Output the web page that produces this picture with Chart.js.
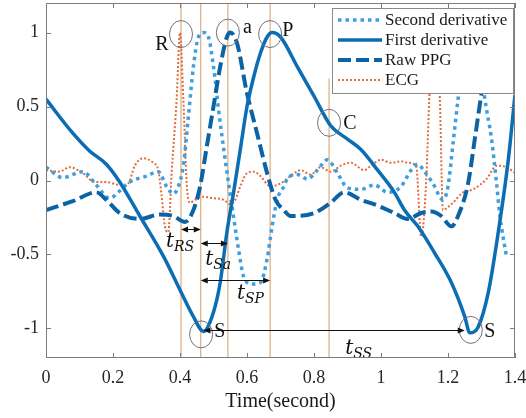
<!DOCTYPE html>
<html lang="en">
<head>
<meta charset="UTF-8">
<title>PPG and ECG timing</title>
<script src="https://cdn.jsdelivr.net/npm/chart.js"></script>
<style>
  html, body { margin: 0; padding: 0; background: #fff; }
  #chart { display: block; }
</style>
</head>
<body>
<canvas id="chart" width="526" height="418"></canvas>
<script>
// axis ticks
const xTicks = [0, 0.2, 0.4, 0.6, 0.8, 1, 1.2, 1.4];
const yTicks = [-1, -0.5, 0, 0.5, 1];

const seriesNames = ['Second derivative', 'First derivative', 'Raw PPG', 'ECG'];

// second derivative of the PPG
const sdT = [0, 0.05, 0.11, 0.15, 0.19, 0.22, 0.25, 0.30, 0.335, 0.36, 0.38, 0.395, 0.41, 0.425, 0.44, 0.455, 0.47, 0.485, 0.50, 0.515, 0.535, 0.555, 0.575, 0.59, 0.615, 0.64, 0.66, 0.675, 0.69, 0.71, 0.72, 0.75, 0.78, 0.81, 0.84, 0.87, 0.90, 0.94, 0.98, 1.02, 1.06, 1.09, 1.11, 1.13, 1.155, 1.185, 1.20, 1.215, 1.23, 1.25, 1.27, 1.29, 1.31, 1.33, 1.345, 1.355, 1.375];
const sdV = [0.09, 0.02, 0.06, -0.03, -0.12, -0.07, -0.01, 0.03, 0.06, -0.04, -0.09, -0.04, 0.10, 0.43, 0.77, 0.97, 1.0, 0.97, 0.77, 0.48, 0.14, -0.17, -0.47, -0.65, -0.70, -0.69, -0.53, -0.31, -0.13, -0.04, 0.01, 0.04, 0.01, 0.07, 0.14, 0.05, -0.05, -0.06, -0.03, -0.08, -0.04, 0.07, 0.11, 0.06, -0.02, -0.13, -0.04, 0.25, 0.55, 0.9, 1.0, 0.9, 0.55, 0.28, -0.02, -0.24, -0.52];

// first derivative of the PPG
const fdT = [0, 0.08, 0.13, 0.18, 0.22, 0.28, 0.35, 0.40, 0.44, 0.47, 0.50, 0.52, 0.54, 0.56, 0.58, 0.60, 0.62, 0.64, 0.66, 0.675, 0.70, 0.75, 0.80, 0.85, 0.90, 0.94, 0.99, 1.04, 1.07, 1.11, 1.16, 1.21, 1.25, 1.265, 1.29, 1.32, 1.35, 1.38, 1.40];
const fdV = [0.55, 0.32, 0.20, 0.11, -0.01, -0.24, -0.51, -0.74, -0.92, -1.02, -0.89, -0.69, -0.35, -0.08, 0.21, 0.50, 0.70, 0.86, 0.97, 1.0, 0.97, 0.77, 0.57, 0.37, 0.28, 0.21, 0.07, -0.08, -0.20, -0.31, -0.49, -0.69, -0.92, -1.03, -0.99, -0.76, -0.35, 0.14, 0.58];

// raw PPG
const ppgT = [0, 0.08, 0.15, 0.18, 0.22, 0.28, 0.34, 0.38, 0.415, 0.44, 0.46, 0.48, 0.50, 0.52, 0.54, 0.55, 0.57, 0.60, 0.63, 0.66, 0.685, 0.71, 0.73, 0.80, 0.85, 0.89, 0.94, 0.99, 1.04, 1.08, 1.12, 1.15, 1.18, 1.21, 1.23, 1.26, 1.28, 1.30, 1.33, 1.37, 1.40];
const ppgV = [-0.20, -0.14, -0.08, -0.13, -0.22, -0.26, -0.23, -0.24, -0.28, -0.20, -0.04, 0.23, 0.50, 0.77, 0.97, 1.0, 0.93, 0.59, 0.32, 0.05, -0.13, -0.20, -0.24, -0.22, -0.15, -0.08, -0.13, -0.17, -0.22, -0.26, -0.22, -0.21, -0.24, -0.31, -0.24, -0.02, 0.28, 0.59, 1.0, 0.95, 0.8];

// ECG
const ecgT = [0, 0.04, 0.07, 0.11, 0.145, 0.18, 0.22, 0.245, 0.265, 0.29, 0.32, 0.335, 0.345, 0.355, 0.365, 0.375, 0.39, 0.40, 0.41, 0.42, 0.43, 0.445, 0.47, 0.50, 0.53, 0.55, 0.565, 0.58, 0.60, 0.62, 0.64, 0.67, 0.70, 0.73, 0.76, 0.79, 0.82, 0.85, 0.88, 0.91, 0.95, 0.97, 1.00, 1.03, 1.06, 1.08, 1.105, 1.12, 1.135, 1.145, 1.16, 1.175, 1.185, 1.20, 1.215, 1.245, 1.275, 1.315, 1.345, 1.375, 1.40];
const ecgV = [0.07, 0.06, 0.09, 0.05, -0.01, -0.01, -0.03, -0.02, 0.10, 0.15, 0.12, 0.07, -0.10, -0.31, -0.35, 0.05, 0.55, 1.0, 0.55, -0.02, -0.15, -0.13, -0.11, -0.12, -0.13, -0.16, -0.13, -0.04, 0.05, 0.06, 0.03, -0.04, -0.02, 0.03, 0.07, 0.04, 0.09, 0.06, 0.10, 0.12, 0.07, 0.10, 0.14, 0.12, 0.13, 0.12, 0.10, -0.38, 0.0, 0.6, 1.0, 0.6, -0.2, -0.18, -0.15, -0.08, -0.06, 0.01, 0.10, 0.09, 0.05];

// vertical reference lines (time, top end)
const markerX = [0.403, 0.462, 0.543, 0.669, 0.845];
const markerTop = [1.2, 1.2, 1.2, 1.2, 0.69];

// circled points and their letters
const circleX = [0.403, 0.543, 0.669, 0.845, 0.463, 1.268];
const circleY = [0.99, 1.0, 0.99, 0.39, -1.04, -1.01];
const pointText = ['R', 'a', 'P', 'C', 'S', 'S'];
const pointTextX = [0.346, 0.601, 0.722, 0.907, 0.519, 1.325];
const pointTextY = [0.92, 1.03, 1.01, 0.385, -1.02, -1.02];

// interval arrows
const intervalSub = ['RS', 'Sa', 'SP', 'SS'];
const intervalFrom = [0.403, 0.462, 0.462, 0.47];
const intervalTo = [0.462, 0.543, 0.669, 1.25];
const intervalY = [-0.33, -0.42, -0.67, -1.01];
const intervalTextX = [0.358, 0.475, 0.570, 0.893];
const intervalTextY = [-0.45, -0.57, -0.80, -1.17];

const zip = (t, v) => t.map((x, i) => ({ x: x, y: v[i] }));

const serif = '"Liberation Serif", "Times New Roman", serif';

const datasets = [
    { label: seriesNames[0], data: zip(sdT, sdV), borderColor: '#3d9fe0', borderWidth: 3.5, borderDash: [3.5, 4], order: 3 },
    { label: seriesNames[1], data: zip(fdT, fdV), borderColor: '#0b6db3', borderWidth: 3.5, order: 1 },
    { label: seriesNames[2], data: zip(ppgT, ppgV), borderColor: '#0b63a6', borderWidth: 4, borderDash: [13, 5], order: 2 },
    { label: seriesNames[3], data: zip(ecgT, ecgV), borderColor: '#df6c3c', borderWidth: 2, borderDash: [2, 2], order: 4 }
];
markerX.forEach((x, i) => {
    datasets.push({ label: 'marker', data: [{ x: x, y: -1.2 }, { x: x, y: markerTop[i] }], borderColor: '#d99a60', borderWidth: 1, order: 10 });
});

function arrowHead(ctx, x, y, dir) {
    ctx.beginPath();
    ctx.moveTo(x, y);
    ctx.lineTo(x - dir * 7, y - 3);
    ctx.lineTo(x - dir * 7, y + 3);
    ctx.closePath();
    ctx.fill();
}

// drop the label overhang padding so the plot box sits where the figure has it
function noOverhang(s) {
    s.paddingTop = 0;
    s.paddingBottom = 0;
    s.paddingLeft = 0;
    s.paddingRight = 0;
}

const annotations = {
    id: 'annotations',
    afterDatasetsDraw(chart) {
        const ctx = chart.ctx;
        const sx = chart.scales.x, sy = chart.scales.y;
        ctx.save();

        // circles
        ctx.strokeStyle = '#6f6f80';
        ctx.lineWidth = 1;
        circleX.forEach((x, i) => {
            ctx.beginPath();
            ctx.ellipse(sx.getPixelForValue(x), sy.getPixelForValue(circleY[i]), 11.5, 13.5, 0, 0, Math.PI * 2);
            ctx.stroke();
        });

        // point letters
        ctx.fillStyle = '#111';
        ctx.font = '20px ' + serif;
        ctx.textAlign = 'center';
        ctx.textBaseline = 'middle';
        pointText.forEach((t, i) => {
            ctx.fillText(t, sx.getPixelForValue(pointTextX[i]), sy.getPixelForValue(pointTextY[i]));
        });

        // interval arrows
        ctx.strokeStyle = '#111';
        intervalSub.forEach((s, i) => {
            const x1 = sx.getPixelForValue(intervalFrom[i]);
            const x2 = sx.getPixelForValue(intervalTo[i]);
            const y = Math.round(sy.getPixelForValue(intervalY[i])) + 0.5;
            ctx.beginPath();
            ctx.moveTo(x1 + 2, y);
            ctx.lineTo(x2 - 2, y);
            ctx.stroke();
            arrowHead(ctx, x1, y, -1);
            arrowHead(ctx, x2, y, 1);

            const tx = sx.getPixelForValue(intervalTextX[i]);
            const ty = sy.getPixelForValue(intervalTextY[i]);
            ctx.textAlign = 'left';
            ctx.textBaseline = 'alphabetic';
            ctx.font = 'italic 20px "DejaVu Serif", serif';
            ctx.fillText('t', tx, ty);
            const w = ctx.measureText('t').width;
            ctx.font = 'italic 14px "DejaVu Serif", serif';
            ctx.fillText(s, tx + w, ty + 4);
        });
        ctx.restore();
    },
    afterDraw(chart) {
        const ctx = chart.ctx;
        const a = chart.chartArea;
        const sx = chart.scales.x, sy = chart.scales.y;
        ctx.save();

        // box with inward ticks
        ctx.strokeStyle = '#7c7c7c';
        ctx.lineWidth = 1;
        ctx.strokeRect(a.left + 0.5, a.top + 0.5, a.right - a.left - 1, a.bottom - a.top - 1);
        ctx.beginPath();
        xTicks.forEach(v => {
            const x = Math.round(sx.getPixelForValue(v)) + 0.5;
            ctx.moveTo(x, a.bottom); ctx.lineTo(x, a.bottom - 5);
            ctx.moveTo(x, a.top); ctx.lineTo(x, a.top + 5);
        });
        yTicks.forEach(v => {
            const y = Math.round(sy.getPixelForValue(v)) + 0.5;
            ctx.moveTo(a.left, y); ctx.lineTo(a.left + 5, y);
            ctx.moveTo(a.right, y); ctx.lineTo(a.right - 5, y);
        });
        ctx.stroke();

        // legend
        const lw = 181, lh = 85;
        const lx = a.right - 2 - lw, ly = a.top + 5;
        ctx.fillStyle = '#fff';
        ctx.fillRect(lx, ly, lw, lh);
        ctx.strokeStyle = '#8a8a8a';
        ctx.strokeRect(lx + 0.5, ly + 0.5, lw, lh);
        ctx.font = '17px ' + serif;
        ctx.textAlign = 'left';
        ctx.textBaseline = 'middle';
        seriesNames.forEach((name, i) => {
            const ds = chart.data.datasets[i];
            const y = ly + 12 + i * 20;
            ctx.strokeStyle = ds.borderColor;
            ctx.lineWidth = ds.borderWidth;
            ctx.setLineDash(ds.borderDash || []);
            ctx.beginPath();
            ctx.moveTo(lx + 6, y);
            ctx.lineTo(lx + 50, y);
            ctx.stroke();
            ctx.setLineDash([]);
            ctx.fillStyle = '#1a1a1a';
            ctx.fillText(name, lx + 53, y + 1);
        });
        ctx.restore();
    }
};

new Chart(document.getElementById('chart'), {
    type: 'line',
    data: { datasets: datasets },
    plugins: [annotations],
    options: {
        responsive: false,
        animation: false,
        devicePixelRatio: 1,
        layout: { padding: { top: 3, right: 11, left: 0, bottom: 0 } },
        elements: {
            point: { radius: 0 },
            line: { cubicInterpolationMode: 'monotone', fill: false }
        },
        plugins: {
            legend: { display: false },
            tooltip: { enabled: false }
        },
        scales: {
            x: {
                type: 'linear',
                min: 0,
                max: 1.4,
                afterBuildTicks: s => { s.ticks = xTicks.map(v => ({ value: v })); },
                afterFit: s => { s.height = 60; noOverhang(s); },
                grid: { display: false, drawTicks: false },
                border: { display: false },
                ticks: { padding: 9, color: '#262626', font: { family: serif, size: 18 }, callback: v => String(v) },
                title: { display: true, text: 'Time(second)', color: '#1a1a1a', font: { family: serif, size: 20 }, padding: { top: 0, bottom: 4 } }
            },
            y: {
                type: 'linear',
                min: -1.2,
                max: 1.2,
                afterBuildTicks: s => { s.ticks = yTicks.map(v => ({ value: v })); },
                afterFit: s => { s.width = 46; noOverhang(s); },
                grid: { display: false, drawTicks: false },
                border: { display: false },
                ticks: { padding: 7, color: '#262626', font: { family: serif, size: 18 }, callback: v => String(v) }
            }
        }
    }
});
</script>
</body>
</html>
